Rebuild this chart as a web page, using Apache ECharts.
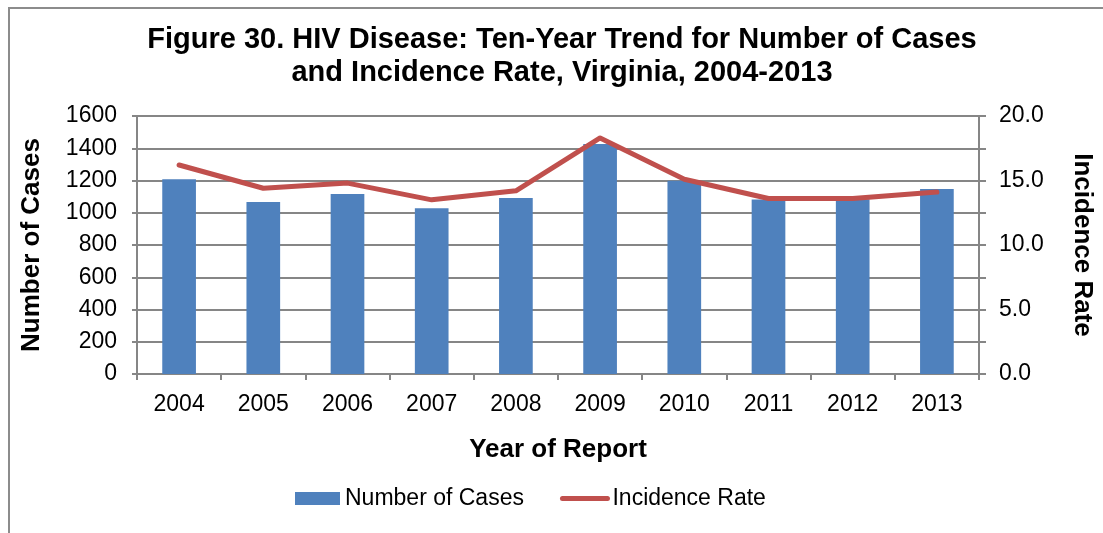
<!DOCTYPE html>
<html>
<head>
<meta charset="utf-8">
<script src="https://cdn.jsdelivr.net/npm/echarts@6/dist/echarts.min.js"></script>
<style>html,body{margin:0;padding:0;background:#fff}#c{width:1103px;height:533px}</style>
</head>
<body>
<div id="c"></div>
<script>
const years = ['2004','2005','2006','2007','2008','2009','2010','2011','2012','2013'];
const cases = [1208, 1067, 1117, 1028, 1092, 1426, 1198, 1082, 1083, 1148];
const rates = [16.2, 14.4, 14.8, 13.5, 14.2, 18.3, 15.1, 13.6, 13.6, 14.1];
const titleLines = ['Figure 30. HIV Disease: Ten-Year Trend for Number of Cases', 'and Incidence Rate, Virginia, 2004-2013'];

const FONT = '"Liberation Sans", Arial, sans-serif';
const axisGray = '#868686';
const chart = echarts.init(document.getElementById('c'), null, {renderer: 'canvas'});
chart.setOption({
  animation: false,
  backgroundColor: '#fff',
  textStyle: {fontFamily: FONT, color: '#000'},
  graphic: [
    {type: 'rect', shape: {x: 9, y: 8, width: 1200, height: 600}, style: {fill: 'none', stroke: '#8c8c8c', lineWidth: 2}, silent: true},
    {type: 'text', x: 562, y: 40, style: {text: titleLines[0], font: 'bold 29px ' + FONT, fill: '#000', align: 'center', verticalAlign: 'middle'}},
    {type: 'text', x: 562, y: 73, style: {text: titleLines[1], font: 'bold 29px ' + FONT, fill: '#000', align: 'center', verticalAlign: 'middle'}}
  ],
  legend: {
    left: 290, top: 482,
    itemWidth: 45, itemHeight: 13, itemGap: 36,
    textStyle: {fontSize: 23, color: '#000', fontFamily: FONT},
    data: [
      {name: 'Number of Cases', icon: 'rect'},
      {name: 'Incidence Rate', itemStyle: {opacity: 0}, lineStyle: {width: 5, color: '#C0504D', cap: 'round'}}
    ]
  },
  grid: {left: 137, right: 120, top: 116, bottom: 159},
  xAxis: {
    type: 'category', data: years,
    axisLine: {lineStyle: {color: axisGray, width: 2}},
    axisTick: {show: true, interval: 0, length: 6, lineStyle: {color: axisGray, width: 2}},
    axisLabel: {fontSize: 23, color: '#000', margin: 19, fontFamily: FONT},
    name: 'Year of Report', nameLocation: 'middle', nameGap: 63,
    nameTextStyle: {fontSize: 26, fontWeight: 'bold', color: '#000', fontFamily: FONT}
  },
  yAxis: [
    {
      type: 'value', min: 0, max: 1600, interval: 200,
      axisLine: {show: true, lineStyle: {color: axisGray, width: 2}},
      axisTick: {show: true, length: 5, lineStyle: {color: axisGray, width: 2}},
      axisLabel: {fontSize: 23, color: '#000', margin: 20, fontFamily: FONT, formatter: v => String(v)},
      splitLine: {lineStyle: {color: axisGray, width: 2}},
      name: 'Number of Cases', nameLocation: 'middle', nameGap: 92, nameRotate: 90,
      nameTextStyle: {fontSize: 26, fontWeight: 'bold', color: '#000', fontFamily: FONT}
    },
    {
      type: 'value', min: 0, max: 20, interval: 2.5, position: 'right',
      axisLine: {show: true, lineStyle: {color: axisGray, width: 2}},
      axisTick: {show: true, length: 7, lineStyle: {color: axisGray, width: 2}},
      axisLabel: {fontSize: 23, color: '#000', margin: 20, fontFamily: FONT,
        formatter: v => (v % 5 === 0 ? v.toFixed(1) : '')},
      splitLine: {show: false},
      name: 'Incidence Rate', nameLocation: 'middle', nameGap: 90, nameRotate: -90,
      nameTextStyle: {fontSize: 26, fontWeight: 'bold', color: '#000', fontFamily: FONT}
    }
  ],
  series: [
    {name: 'Number of Cases', type: 'bar', data: cases, barWidth: '40%', itemStyle: {color: '#4F81BD'}, yAxisIndex: 0},
    {name: 'Incidence Rate', type: 'line', data: rates, yAxisIndex: 1, symbol: 'none',
      lineStyle: {color: '#C0504D', width: 5, cap: 'round', join: 'round'}, itemStyle: {color: '#C0504D'}}
  ]
});
</script>
</body>
</html>
